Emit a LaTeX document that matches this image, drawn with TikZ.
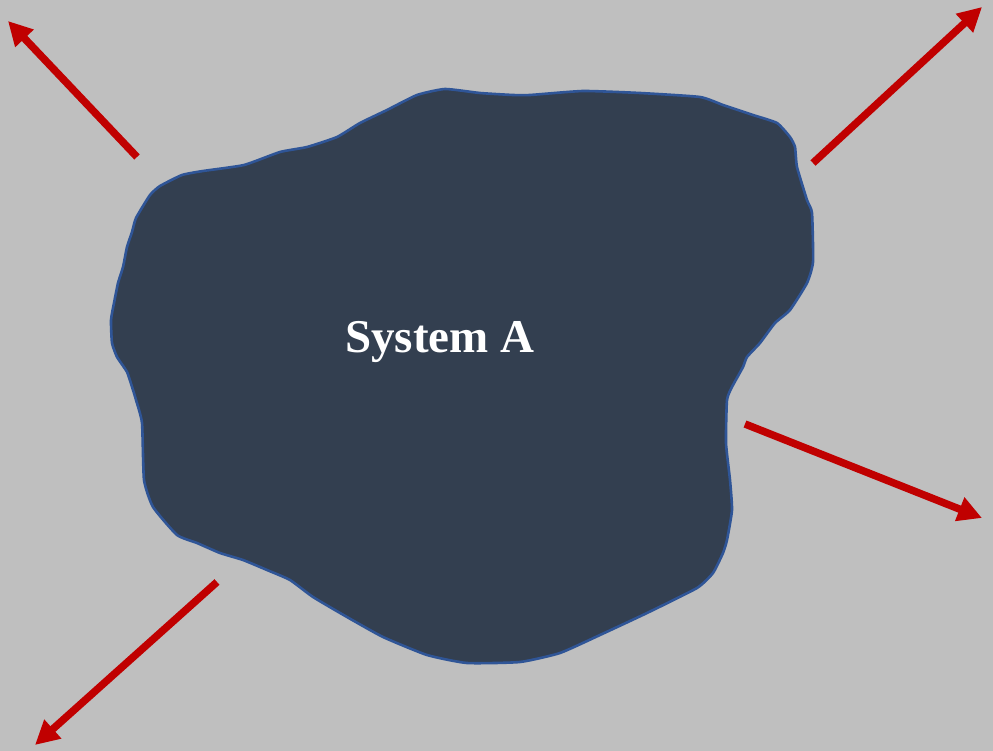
\documentclass[tikz,border=0pt]{standalone}
\usepackage{fontspec}
\setmainfont{Liberation Serif}
\usetikzlibrary{arrows.meta}
\definecolor{bggray}{RGB}{191,191,191}
\definecolor{blobfill}{RGB}{51,63,80}
\definecolor{blobline}{RGB}{47,85,151}
\definecolor{arrowred}{RGB}{192,0,0}
\tikzset{
  outarrow/.style={draw=arrowred, line width=7.5pt, -{Triangle[length=24pt,width=24pt]}},
  blob/.style={fill=blobfill, draw=blobline, line width=2.6pt, line join=round},
}
\begin{document}
\begin{tikzpicture}[x=1pt,y=-1pt]
\fill[bggray] (0,0) rectangle (993,751);
\useasboundingbox (0,0) rectangle (993,751);
\draw[blob] plot[smooth cycle, tension=0.3] coordinates {(244,165) (280,152) (307,147) (337,137) (360,123) (387,110) (417,95) (445,89) (480,93) (513,95) (530,95) (583,91) (640,93) (700,97) (723,105) (753,115) (777,123) (790,137) (795,147) (797,167) (807,200) (812,213) (813,262) (807,283) (790,310) (775,323) (760,343) (747,357) (743,367) (732,387) (727,400) (726,443) (730,480) (732,510) (727,540) (723,553) (713,573) (697,588) (647,613) (600,635) (560,653) (520,662) (467,663) (427,655) (383,637) (347,617) (313,597) (290,580) (267,570) (243,560) (220,553) (197,543) (177,535) (153,507) (144,480) (142,423) (136,400) (133,390) (127,372) (117,357) (112,343) (111,320) (114,303) (118,283) (123,267) (127,247) (132,232) (136,218) (150,195) (160,186) (182,175) (203,171)};
\node[text=white, font=\bfseries\fontsize{47}{56}\selectfont] (sysA) at (440,342) {System A};
\coordinate (s1) at (137,157); \coordinate (t1) at (8,21);
\coordinate (s2) at (813,163); \coordinate (t2) at (982,7);
\coordinate (s3) at (217,582); \coordinate (t3) at (35,745);
\coordinate (s4) at (745,424); \coordinate (t4) at (982,518);
\draw[outarrow] (s1) -- (t1);
\draw[outarrow] (s2) -- (t2);
\draw[outarrow] (s3) -- (t3);
\draw[outarrow] (s4) -- (t4);
\end{tikzpicture}
\end{document}
